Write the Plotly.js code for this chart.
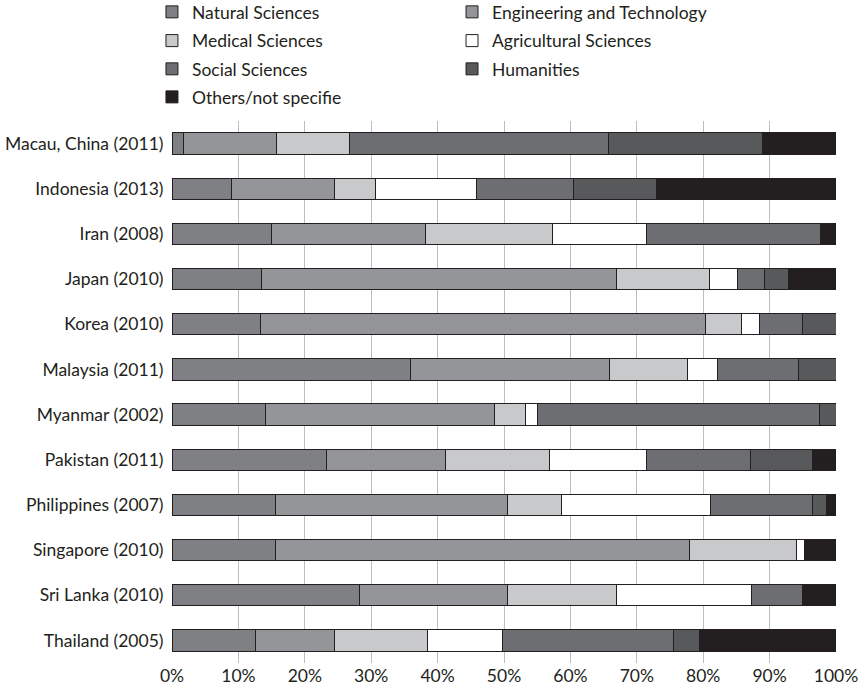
<!DOCTYPE html>
<html>
<head>
<meta charset="utf-8">
<script src="https://cdn.plot.ly/plotly-3.0.1.min.js"></script>
<style>html,body{margin:0;padding:0;background:#fff;}</style>
</head>
<body>
<div id="chart" style="width:860px;height:689px;"></div>
<script>
const countries = ["Macau, China (2011)","Indonesia (2013)","Iran (2008)","Japan (2010)","Korea (2010)","Malaysia (2011)","Myanmar (2002)","Pakistan (2011)","Philippines (2007)","Singapore (2010)","Sri Lanka (2010)","Thailand (2005)"];
const seriesNames = ["Natural Sciences","Engineering and Technology","Medical Sciences","Agricultural Sciences","Social Sciences","Humanities","Others/not specifie"];
const natural     = [1.7, 8.9, 15.0, 13.5, 13.3, 35.9, 14.1, 23.3, 15.6, 15.6, 28.3, 12.6];
const engineering = [14.0, 15.6, 23.2, 53.4, 67.1, 30.0, 34.4, 17.9, 34.9, 62.3, 22.3, 11.9];
const medical     = [11.1, 6.1, 19.1, 14.1, 5.4, 11.7, 4.7, 15.6, 8.2, 16.1, 16.3, 14.0];
const agricultural= [0, 15.3, 14.2, 4.1, 2.7, 4.6, 1.8, 14.6, 22.4, 1.3, 20.3, 11.3];
const social      = [38.9, 14.6, 26.1, 4.1, 6.4, 12.1, 42.5, 15.7, 15.3, 0, 7.8, 25.7];
const humanities  = [23.2, 12.5, 0, 3.7, 5.1, 5.7, 2.5, 9.4, 2.2, 0, 0, 4.0];
const others      = [11.1, 27.0, 2.4, 7.1, 0, 0, 0, 3.5, 1.4, 4.7, 5.0, 20.5];
const tickVals = [0,10,20,30,40,50,60,70,80,90,100];
const tickText = ["0%","10%","20%","30%","40%","50%","60%","70%","80%","90%","100%"];

const colors = ["#7f8083","#939598","#c8c9cb","#ffffff","#6d6e71","#58595b","#231f20"];
const allSeries = [natural, engineering, medical, agricultural, social, humanities, others];
const legendIds = ["legend","legend2","legend3","legend4","legend5","legend6","legend7"];

const traces = allSeries.map((vals, i) => ({
  type: "bar",
  orientation: "h",
  name: seriesNames[i],
  y: countries,
  x: vals,
  width: 0.47,
  legend: legendIds[i],
  marker: {color: colors[i], line: {color: "#231f20", width: 1}},
  hoverinfo: "x+y+name"
}));

const fontFam = "Lato, 'Open Sans', sans-serif";
const FS = 17.5;
// legend grid: two columns, four rows (container fractions)
const colX = [0.1767, 0.5256];
const rowY = [0.9826, 0.9409, 0.8999, 0.8592];
function leg(i) {
  return {
    orientation: "h",
    x: colX[i % 2], xanchor: "left", xref: "container",
    y: rowY[Math.floor(i / 2)], yanchor: "middle", yref: "container",
    font: {family: fontFam, size: FS, color: "#231f20"},
    bgcolor: "rgba(0,0,0,0)",
    borderwidth: 0
  };
}
const layout = {
  width: 860, height: 689,
  margin: {l: 172, r: 24, t: 121, b: 26},
  barmode: "stack",
  bargap: 0.53,
  paper_bgcolor: "#fff",
  plot_bgcolor: "#fff",
  font: {family: fontFam, size: FS, color: "#231f20"},
  showlegend: true,
  xaxis: {
    range: [0, 100],
    tickvals: tickVals,
    ticktext: tickText,
    showgrid: true,
    gridcolor: "#bcbec0",
    gridwidth: 1,
    zeroline: false,
    showline: false,
    ticks: "",
    tickfont: {family: fontFam, size: FS, color: "#231f20"},
    fixedrange: true
  },
  yaxis: {
    type: "category",
    autorange: "reversed",
    showgrid: false,
    zeroline: false,
    showline: false,
    ticks: "outside",
    ticklen: 4,
    tickcolor: "rgba(0,0,0,0)",
    tickfont: {family: fontFam, size: FS, color: "#231f20"},
    fixedrange: true
  }
};
legendIds.forEach((id, i) => { layout[id] = leg(i); });

Plotly.newPlot("chart", traces, layout, {displayModeBar: false, staticPlot: true});
</script>
</body>
</html>
